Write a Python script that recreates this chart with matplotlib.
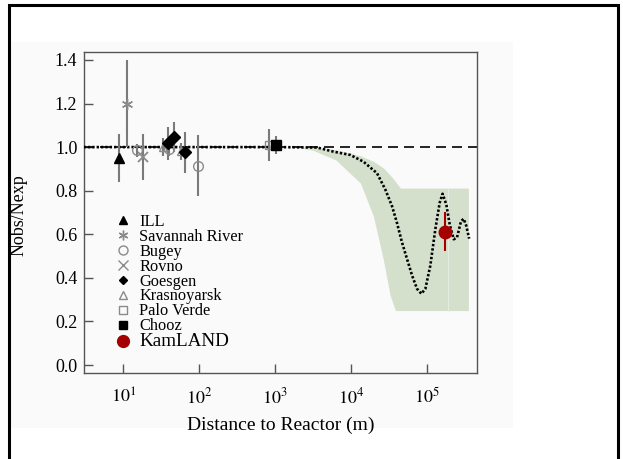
import matplotlib
matplotlib.use("Agg")
import matplotlib.pyplot as plt
from matplotlib.lines import Line2D
from matplotlib.patches import Rectangle
import numpy as np

plt.rcParams["font.family"] = ["Liberation Serif", "DejaVu Serif"]
plt.rcParams["mathtext.fontset"] = "stix"

# ----------------------------------------------------------------------------
# Data
# ----------------------------------------------------------------------------
EXPERIMENTS = ["ILL", "Savannah River", "Bugey", "Rovno", "Goesgen",
               "Krasnoyarsk", "Palo Verde", "Chooz", "KamLAND"]

ill_dist = [8.9]
ill_ratio = [0.952]
ill_err = [0.11]

savannah_dist = [11.2]
savannah_ratio = [1.20]
savannah_err = [0.20]

bugey_dist = [15.0, 40.0, 95.0]
bugey_ratio = [0.985, 0.99, 0.915]
bugey_err = [0.03, 0.03, 0.14]

rovno_dist = [18.0]
rovno_ratio = [0.955]
rovno_err = [0.105]

goesgen_dist = [38.7, 46.0, 65.0]
goesgen_ratio = [1.018, 1.047, 0.976]
goesgen_err = [0.075, 0.07, 0.095]

krasnoyarsk_dist = [33.0, 57.0]
krasnoyarsk_ratio = [1.0, 0.98]
krasnoyarsk_err = [0.04, 0.04]

paloverde_dist = [820.0]
paloverde_ratio = [1.01]
paloverde_err = [0.075]

chooz_dist = [1030.0]
chooz_ratio = [1.009]
chooz_err = [0.04]

kamland_dist = [1.73e5]
kamland_ratio = [0.611]
kamland_err = [0.09]

# oscillation expectation (dotted curve)
curve_dist = [3.0, 1000, 3548, 5850, 9700, 14450, 21800, 28000, 34300, 39800,
              46450, 54100, 63100, 73100, 83400, 94200, 109400, 127400, 145200,
              158500, 177800, 196800, 222300, 245500, 277300, 300600, 325800,
              354800]
curve_ratio = [1.0, 1.0, 0.998, 0.979, 0.964, 0.933, 0.88, 0.805, 0.729, 0.653,
               0.562, 0.486, 0.41, 0.35, 0.327, 0.35, 0.456, 0.623, 0.744,
               0.786, 0.736, 0.645, 0.577, 0.585, 0.66, 0.671, 0.638, 0.58]

# allowed band
band_dist = [1905, 3162, 6310, 13180, 19500, 26300, 32360, 38020, 44160, 346700]
band_low = [1.0, 0.985, 0.94, 0.835, 0.683, 0.486, 0.32, 0.25, 0.25, 0.25]
band_high = [1.0, 1.0, 0.988, 0.96, 0.935, 0.905, 0.872, 0.842, 0.812, 0.812]
band_seam = 1.87e5

X_TICKS = [1e1, 1e2, 1e3, 1e4, 1e5]
Y_TICKS = [0.0, 0.2, 0.4, 0.6, 0.8, 1.0, 1.2, 1.4]

# ----------------------------------------------------------------------------
# Styles
# ----------------------------------------------------------------------------
GRAY = "#8a8a8a"
EGRAY = "#7a7a7a"
RED = "#a50000"
BAND = "#d5e0cc"

fig = plt.figure(figsize=(6.23, 4.59), dpi=100)
W, H = 623, 459

# faint off-white backdrop and outer frame
fig.patches.append(Rectangle((10 / W, 1 - 428 / H), 503 / W, 386 / H,
                             transform=fig.transFigure, facecolor="#fafafa",
                             edgecolor="none", zorder=-2))
fig.patches.append(Rectangle((9 / W, -0.05), 609 / W, 1.05 - 5 / H,
                             transform=fig.transFigure, fill=False,
                             edgecolor="black", lw=2.2, zorder=-1))

ax = fig.add_axes([84.3 / W, 1 - 373.3 / H, (477 - 84.3) / W, (373.3 - 52.3) / H])
ax.set_facecolor("none")
ax.set_xscale("log")
ax.set_xlim(3.07, 4.5e5)
ax.set_ylim(-0.038, 1.435)

# band with the faint seam of the original
ax.fill_between(band_dist, band_low, band_high, color=BAND, lw=0, zorder=1)
ax.vlines(band_seam, band_low[-1], band_high[-1], color="#e4ebdf", lw=0.8, zorder=1.5)

# no-oscillation line and expectation curve
ax.axhline(1.0, color="black", lw=1.2, dashes=(6, 3.6), zorder=2)
ax.plot(curve_dist, curve_ratio, color="black", lw=1.9, dashes=(0.9, 0.75), zorder=3)


def points(d, r, e, marker, mfc, mec, ms, ecolor=EGRAY, mew=1.0, z=4):
    ax.errorbar(d, r, yerr=e, fmt="none", ecolor=ecolor, elinewidth=1.5, zorder=z)
    ax.plot(d, r, linestyle="none", marker=marker, mfc=mfc, mec=mec, ms=ms,
            mew=mew, zorder=z + 0.5)


asterisk = (6, 2, 0)
points(bugey_dist, bugey_ratio, bugey_err, "o", "none", GRAY, 7)
points(krasnoyarsk_dist, krasnoyarsk_ratio, krasnoyarsk_err, "^", "none", GRAY, 6)
points(paloverde_dist, paloverde_ratio, paloverde_err, "s", "none", GRAY, 6)
points(savannah_dist, savannah_ratio, savannah_err, asterisk, GRAY, GRAY, 8)
points(rovno_dist, rovno_ratio, rovno_err, "x", GRAY, GRAY, 7, mew=1.3)
points(ill_dist, ill_ratio, ill_err, "^", "black", "black", 6.5)
points(goesgen_dist, goesgen_ratio, goesgen_err, "D", "black", "black", 5.8)
points(chooz_dist, chooz_ratio, chooz_err, "s", "black", "black", 6.5)
points(kamland_dist, kamland_ratio, kamland_err, "o", RED, RED, 9, ecolor=RED,
       z=6)

# axes cosmetics
for s in ax.spines.values():
    s.set_color("#555555")
    s.set_linewidth(1.0)
ax.set_xticks(X_TICKS)
ax.set_xticklabels([rf"$10^{{{int(np.log10(t))}}}$" for t in X_TICKS])
ax.xaxis.set_minor_locator(matplotlib.ticker.NullLocator())
ax.set_yticks(Y_TICKS)
ax.set_yticklabels([f"{t:.1f}" for t in Y_TICKS])
ax.tick_params(direction="in", length=6.5, width=1.0, color="#555555",
               labelsize=13, pad=5)
ax.tick_params(axis="x", pad=10)
ax.set_xlabel("Distance to Reactor (m)", fontsize=14, labelpad=7)
fig.text(19 / W, 1 - 215 / H, "Nobs/Nexp", rotation=90, fontsize=13,
         ha="center", va="center")

# legend
styles = [
    ("^", "black", "black", 6, 1.0),
    (asterisk, GRAY, GRAY, 7, 1.0),
    ("o", "none", GRAY, 6.5, 1.0),
    ("x", GRAY, GRAY, 6.5, 1.0),
    ("D", "black", "black", 4.5, 1.0),
    ("^", "none", GRAY, 6, 1.0),
    ("s", "none", GRAY, 6, 1.0),
    ("s", "black", "black", 6, 1.0),
    ("o", RED, RED, 8.5, 1.0),
]
handles = [Line2D([], [], linestyle="none", marker=m, mfc=fc, mec=ec, ms=ms, mew=mw)
           for m, fc, ec, ms, mw in styles]
leg = ax.legend(handles, EXPERIMENTS, loc="upper left",
                bbox_to_anchor=(0.0795, 0.497), frameon=False, fontsize=11.8,
                handlelength=0.95, handletextpad=0.5, labelspacing=-0.065,
                borderpad=0, borderaxespad=0)
leg.get_texts()[-1].set_fontsize(13.8)

fig.savefig("out.png", dpi=100)
